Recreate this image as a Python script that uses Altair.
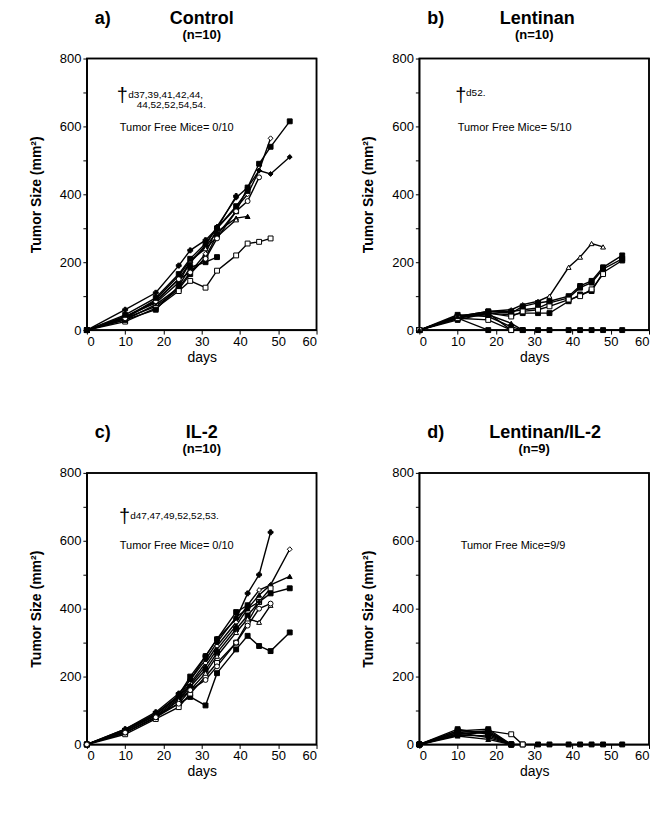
import altair as alt
import pandas as pd

FONT = "Liberation Sans"

# measurement days
days = [0, 10, 18, 24, 27, 31, 34, 39, 42, 45, 48, 53]

# ---- a) Control (n=10)
a1 = [0, 35, 70, 120, 165, 215, 280, 350, 420, 490, 540, 615]
a2 = [0, 30, 75, 125, 170, 225, 300, 360, 400, 470, 565]
a3 = [0, 40, 80, 140, 200, 250, 305, 390, 420, 470, 460, 510]
a4 = [0, 25, 65, 115, 145, 125, 175, 220, 255, 260, 270]
a5 = [0, 60, 110, 190, 235, 265, 300, 395]
a6 = [0, 40, 85, 150, 200, 245, 290, 330, 335]
a7 = [0, 35, 90, 160, 205, 240, 275, 325]
a8 = [0, 30, 60, 130, 185, 200, 215]
a9 = [0, 35, 85, 150, 170, 210, 270, 350, 380, 450]
a10 = [0, 45, 95, 165, 210, 255, 300, 365, 410]
a_shapes = ["square", "diamond", "diamond", "square", "cross", "triangle-up",
            "triangle-up", "square", "circle", "square"]
a_filled = [True, False, True, False, True, True, False, True, False, True]

# ---- b) Lentinan (n=10)
b1 = [0, 40, 55, 60, 75, 85, 100, 185, 215, 255, 245]
b2 = [0, 35, 55, 50, 70, 80, 85, 100, 130, 145, 185, 220]
b3 = [0, 30, 50, 45, 50, 50, 50, 85, 105, 115, 170, 205]
b4 = [0, 40, 55, 55, 60, 65, 80, 95, 125, 140, 180, 210]
b5 = [0, 35, 50, 40, 55, 60, 70, 90, 100, 120, 165]
b6 = [0, 40, 50, 0, 0, 0, 0, 0, 0, 0, 0, 0]
b7 = [0, 35, 0]
b8 = [0, 45, 40, 10, 0]
b9 = [0, 35, 30, 0]
b10 = [0, 40, 45, 20, 0]
b_shapes = ["triangle-up", "square", "square", "square", "square", "square",
            "square", "square", "square", "triangle-up"]
b_filled = [False, True, True, True, False, True, True, True, False, True]

# ---- c) IL-2 (n=10)
c1 = [0, 45, 95, 150, 190, 260, 310, 370, 445, 500, 625]
c2 = [0, 40, 90, 140, 180, 240, 290, 360, 410, 455, 470, 575]
c3 = [0, 40, 85, 135, 175, 230, 280, 350, 400, 440, 470, 495]
c4 = [0, 35, 80, 130, 170, 220, 270, 340, 380, 420, 445, 460]
c5 = [0, 40, 85, 120, 140, 115, 210, 280, 320, 290, 275, 330]
c6 = [0, 30, 75, 110, 150, 200, 240, 300, 360, 420, 460]
c7 = [0, 45, 90, 140, 190, 250, 300, 375, 400, 420]
c8 = [0, 35, 80, 130, 160, 210, 260, 330, 370, 360, 410]
c9 = [0, 40, 90, 145, 200, 260, 310, 390, 410]
c10 = [0, 35, 80, 120, 160, 190, 230, 300, 350, 400, 415]
c_shapes = ["cross", "diamond", "triangle-up", "square", "square", "square",
            "diamond", "triangle-up", "square", "circle"]
c_filled = [True, False, True, True, True, False, True, False, True, False]

# ---- d) Lentinan/IL-2 (n=9)
d1 = [0, 40, 45, 0, 0, 0, 0, 0, 0, 0, 0, 0]
d2 = [0, 35, 40, 30, 0]
d3 = [0, 30, 35, 0]
d4 = [0, 25, 15, 0]
d5 = [0, 45, 30, 0]
d6 = [0, 35, 20, 0]
d7 = [0, 30, 40, 0]
d8 = [0, 40, 35, 0]
d9 = [0, 28, 25, 0]
d_shapes = ["square", "square", "square", "triangle-up", "square", "diamond",
            "square", "square", "circle"]
d_filled = [True, False, True, True, True, True, True, True, True]

# axis extents (frame box)
x_domain = [0, 60]
y_domain = [0, 800]


def build(series, shapes, filled):
    rows = []
    for i, (vals, shp, f) in enumerate(zip(series, shapes, filled)):
        for d, v in zip(days, vals):
            rows.append({"day": d, "size": v, "mouse": f"m{i}",
                         "shape": shp, "fill": "black" if f else "white"})
    return pd.DataFrame(rows)


W, H = 230, 272

XAX = alt.Axis(values=list(range(0, 61, 10)), title="days",
               titleFontWeight="normal", titleFontSize=14, titlePadding=2,
               labelFontSize=13, tickSize=4, labelPadding=1, grid=False,
               labelOverlap=False, labelSeparation=0, domainColor="black",
               tickColor="black", labelColor="black", titleColor="black",
               labelFont=FONT, titleFont=FONT)
YAX = alt.Axis(values=list(range(0, 801, 100)),
               labelExpr="datum.value % 200 == 0 ? datum.label : ''",
               title="Tumor Size (mm²)", titleFontSize=14,
               titleFontWeight="bold", titlePadding=16, labelFontSize=13,
               tickSize=4, labelPadding=2, labelOverlap=False, grid=False,
               domainColor="black", tickColor="black", labelColor="black",
               titleColor="black", labelFont=FONT, titleFont=FONT)
XS = alt.Scale(domain=x_domain, nice=False)
YS = alt.Scale(domain=y_domain, nice=False)


def panel(df, letter, name, n, name_x, notes):
    x = alt.X("day:Q", scale=XS, axis=XAX)
    y = alt.Y("size:Q", scale=YS, axis=YAX)
    base = alt.Chart(df)
    box = alt.Chart(pd.DataFrame({"x0": [x_domain[0]], "x1": [x_domain[1]],
                                  "y0": [y_domain[0]], "y1": [y_domain[1]]}))
    frame = box.mark_rect(fill="white", fillOpacity=0, stroke="black",
                          strokeWidth=1.5).encode(
        x=alt.X("x0:Q", scale=XS, axis=XAX), x2="x1:Q",
        y=alt.Y("y0:Q", scale=YS, axis=YAX), y2="y1:Q")
    lines = base.mark_line(color="black", strokeWidth=1.4).encode(
        x=x, y=y, detail="mouse:N", order="day:Q")
    pts = base.mark_point(filled=True, size=24, stroke="black",
                          strokeWidth=1, opacity=1).encode(
        x=x, y=y,
        shape=alt.Shape("shape:N", scale=None),
        fill=alt.Fill("fill:N", scale=None))
    ndf = pd.DataFrame(notes, columns=["day", "size", "txt", "fs"])
    txt = alt.Chart(ndf).mark_text(align="left", baseline="middle",
                                   font=FONT, color="black").encode(
        x=alt.X("day:Q", scale=XS, axis=XAX),
        y=alt.Y("size:Q", scale=YS, axis=YAX), text="txt:N",
        size=alt.Size("fs:Q", scale=None))
    lab = alt.Chart(pd.DataFrame({"t": [letter]})).mark_text(
        align="left", baseline="middle", font=FONT, fontSize=18,
        fontWeight="bold", color="black").encode(
        x=alt.value(8), y=alt.value(-40), text="t:N")
    ttl = alt.Chart(pd.DataFrame({"t": [name]})).mark_text(
        align="center", baseline="middle", font=FONT, fontSize=18,
        fontWeight="bold", color="black").encode(
        x=alt.value(name_x), y=alt.value(-40), text="t:N")
    sub = alt.Chart(pd.DataFrame({"t": [n]})).mark_text(
        align="center", baseline="middle", font=FONT, fontSize=13,
        fontWeight="bold", color="black").encode(
        x=alt.value(115), y=alt.value(-24), text="t:N")
    return alt.layer(frame, lines, pts, txt, lab, ttl, sub).properties(
        width=W, height=H,
        view=alt.ViewBackground(stroke="black", strokeWidth=1.5))


pa = panel(build([a1, a2, a3, a4, a5, a6, a7, a8, a9, a10], a_shapes, a_filled),
           "a)", "Control", "(n=10)", 115,
           [(7.8, 690, "†", 20), (10.8, 692, "d37,39,41,42,44,", 10),
            (13.0, 662, "44,52,52,54,54.", 10),
            (8.6, 595, "Tumor Free Mice= 0/10", 11)])
pb = panel(build([b1, b2, b3, b4, b5, b6, b7, b8, b9, b10], b_shapes, b_filled),
           "b)", "Lentinan", "(n=10)", 118,
           [(9.4, 690, "†", 20), (12.2, 697, "d52.", 10),
            (10.0, 595, "Tumor Free Mice= 5/10", 11)])
pc = panel(build([c1, c2, c3, c4, c5, c6, c7, c8, c9, c10], c_shapes, c_filled),
           "c)", "IL-2", "(n=10)", 115,
           [(8.4, 670, "†", 20), (11.3, 672, "d47,47,49,52,52,53.", 10),
            (8.6, 585, "Tumor Free Mice= 0/10", 11)])
pd_ = panel(build([d1, d2, d3, d4, d5, d6, d7, d8, d9], d_shapes, d_filled),
            "d)", "Lentinan/IL-2", "(n=9)", 126,
            [(10.8, 585, "Tumor Free Mice=9/9", 11)])

chart = alt.vconcat(
    alt.hconcat(pa, pb, spacing=42),
    alt.hconcat(pc, pd_, spacing=42),
    spacing=58,
).properties(
    padding={"left": 20, "top": 0, "right": 0, "bottom": 0}
).configure(
    background="white", font=FONT
).configure_axis(
    labelOverlap=False
).configure_view(stroke="black", strokeWidth=1.5)

chart.save("out.html", embed_options={"renderer": "svg", "actions": False})
